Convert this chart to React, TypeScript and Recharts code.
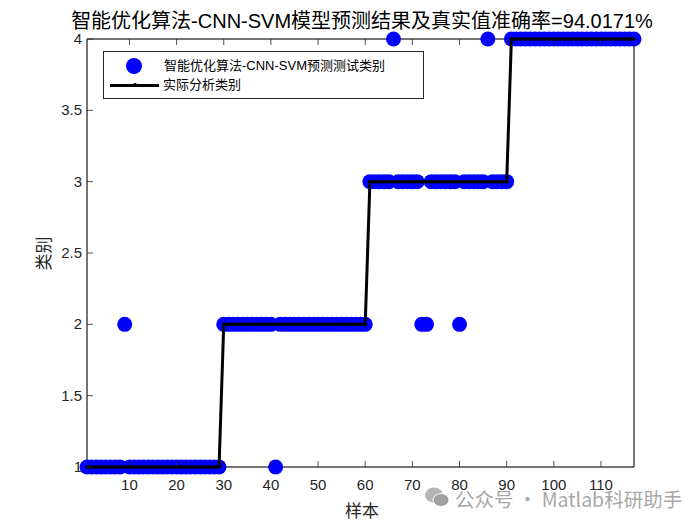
import React from 'react';
import { ComposedChart, Line, Scatter, XAxis, YAxis, ReferenceArea } from 'recharts';

// real class of each test sample (1..117)
const trueClass = [
  1, 1, 1, 1, 1, 1, 1, 1, 1, 1,
  1, 1, 1, 1, 1, 1, 1, 1, 1, 1,
  1, 1, 1, 1, 1, 1, 1, 1, 1, 2,
  2, 2, 2, 2, 2, 2, 2, 2, 2, 2,
  2, 2, 2, 2, 2, 2, 2, 2, 2, 2,
  2, 2, 2, 2, 2, 2, 2, 2, 2, 2,
  3, 3, 3, 3, 3, 3, 3, 3, 3, 3,
  3, 3, 3, 3, 3, 3, 3, 3, 3, 3,
  3, 3, 3, 3, 3, 3, 3, 3, 3, 3,
  4, 4, 4, 4, 4, 4, 4, 4, 4, 4,
  4, 4, 4, 4, 4, 4, 4, 4, 4, 4,
  4, 4, 4, 4, 4, 4, 4,
];

// predicted class of each test sample
const predClass = [
  1, 1, 1, 1, 1, 1, 1, 1, 2, 1,
  1, 1, 1, 1, 1, 1, 1, 1, 1, 1,
  1, 1, 1, 1, 1, 1, 1, 1, 1, 2,
  2, 2, 2, 2, 2, 2, 2, 2, 2, 2,
  1, 2, 2, 2, 2, 2, 2, 2, 2, 2,
  2, 2, 2, 2, 2, 2, 2, 2, 2, 2,
  3, 3, 3, 3, 3, 4, 3, 3, 3, 3,
  3, 2, 2, 3, 3, 3, 3, 3, 3, 2,
  3, 3, 3, 3, 3, 4, 3, 3, 3, 3,
  4, 4, 4, 4, 4, 4, 4, 4, 4, 4,
  4, 4, 4, 4, 4, 4, 4, 4, 4, 4,
  4, 4, 4, 4, 4, 4, 4,
];

const xTicks = [10, 20, 30, 40, 50, 60, 70, 80, 90, 100, 110];
const yTicks = [1, 1.5, 2, 2.5, 3, 3.5, 4];

const title = '智能优化算法-CNN-SVM模型预测结果及真实值准确率=94.0171%';
const predName = '智能优化算法-CNN-SVM预测测试类别';
const trueName = '实际分析类别';

const data = trueClass.map((t, i) => ({ idx: i + 1, real: t, pred: predClass[i] }));

const FONT = '"Liberation Sans", Arial, "Noto Sans CJK SC", sans-serif';
const AX = '#262626';
const TL = 6;

const BottomTick = (p: any) => (
  <g>
    <line x1={p.x} y1={p.y} x2={p.x} y2={p.y - TL} stroke={AX} strokeWidth={0.8} />
    <text x={p.x} y={p.y + 23} textAnchor="middle" fontSize={15} fill={AX} fontFamily={FONT}>
      {p.payload.value}
    </text>
  </g>
);
const TopTick = (p: any) => (
  <line x1={p.x} y1={p.y} x2={p.x} y2={p.y + TL} stroke={AX} strokeWidth={0.8} />
);
const LeftTick = (p: any) => (
  <g>
    <line x1={p.x} y1={p.y} x2={p.x + TL} y2={p.y} stroke={AX} strokeWidth={0.8} />
    <text x={p.x - 5} y={p.y + 5} textAnchor="end" fontSize={15} fill={AX} fontFamily={FONT}>
      {p.payload.value}
    </text>
  </g>
);
const RightTick = (p: any) => (
  <line x1={p.x} y1={p.y} x2={p.x - TL} y2={p.y} stroke={AX} strokeWidth={0.8} />
);

const Dot = (p: any) => <circle cx={p.cx} cy={p.cy} r={7.5} fill="#0000ff" />;

export default function App() {
  return (
    <div style={{ position: 'absolute', left: 0, top: 0, width: 700, height: 525, background: '#fff', fontFamily: FONT }}>
      <ComposedChart width={700} height={525} data={data} margin={{ top: 38, right: 65, bottom: 28, left: 0 }}>
        <XAxis
          xAxisId="b"
          dataKey="idx"
          type="number"
          domain={[1, 117]}
          ticks={xTicks}
          height={30}
          tickSize={0}
          tickMargin={0}
          tickLine={false}
          axisLine={{ stroke: AX, strokeWidth: 0.8 }}
          tick={<BottomTick />}
        />
        <XAxis
          xAxisId="t"
          dataKey="idx"
          type="number"
          orientation="top"
          domain={[1, 117]}
          ticks={xTicks}
          height={1}
          tickSize={0}
          tickMargin={0}
          tickLine={false}
          axisLine={{ stroke: AX, strokeWidth: 0.8 }}
          tick={<TopTick />}
        />
        <YAxis
          yAxisId="l"
          type="number"
          domain={[1, 4]}
          ticks={yTicks}
          width={87}
          tickSize={0}
          tickMargin={0}
          tickLine={false}
          axisLine={{ stroke: AX, strokeWidth: 0.8 }}
          tick={<LeftTick />}
        />
        <YAxis
          yAxisId="r"
          type="number"
          orientation="right"
          domain={[1, 4]}
          ticks={yTicks}
          width={1}
          tickSize={0}
          tickMargin={0}
          tickLine={false}
          axisLine={{ stroke: AX, strokeWidth: 0.8 }}
          tick={<RightTick />}
        />
        <ReferenceArea
          xAxisId="b"
          yAxisId="l"
          x1={1}
          x2={117}
          y1={1}
          y2={4}
          fill="none"
          fillOpacity={0}
          stroke={AX}
          strokeWidth={0.8}
        />
        <Scatter
          xAxisId="b"
          yAxisId="l"
          dataKey="pred"
          name={predName}
          fill="#0000ff"
          shape={<Dot />}
          isAnimationActive={false}
          zIndex={500}
        />
        <Line
          xAxisId="b"
          yAxisId="l"
          type="linear"
          dataKey="real"
          name={trueName}
          stroke="#000"
          strokeWidth={3}
          dot={{ r: 1.8, fill: '#000', stroke: '#000', strokeWidth: 0 }}
          isAnimationActive={false}
          zIndex={700}
        />
      </ComposedChart>

      <div style={{ position: 'absolute', left: 62, width: 600, top: 8, textAlign: 'center', fontSize: 20, lineHeight: '26px', color: '#000', whiteSpace: 'nowrap' }}>
        {title}
      </div>

      <div style={{ position: 'absolute', left: 322, width: 80, top: 497, textAlign: 'center', fontSize: 17, color: AX }}>样本</div>
      <div style={{ position: 'absolute', left: 2, width: 80, top: 241, textAlign: 'center', fontSize: 17, color: AX, transform: 'rotate(-90deg)' }}>类别</div>

      <div style={{ position: 'absolute', left: 103, top: 51, width: 319, height: 46, border: '1px solid #262626', background: '#fff', fontSize: 13, color: '#000' }}>
        <div style={{ position: 'absolute', left: 22, top: 6, width: 16, height: 16, borderRadius: 8, background: '#0000ff' }} />
        <div style={{ position: 'absolute', left: 60, top: 5, lineHeight: '18px', whiteSpace: 'nowrap' }}>{predName}</div>
        <div style={{ position: 'absolute', left: 6, top: 32, width: 49, height: 3, background: '#000' }} />
        <div style={{ position: 'absolute', left: 29, top: 31, width: 4, height: 4, borderRadius: 2, background: '#000' }} />
        <div style={{ position: 'absolute', left: 59, top: 24, lineHeight: '18px', whiteSpace: 'nowrap' }}>{trueName}</div>
      </div>

      <div style={{ position: 'absolute', left: 424, top: 486, width: 26, height: 22 }}>
        <svg width={26} height={22}>
          <ellipse cx={10} cy={9} rx={9} ry={7.5} fill="#b5b5b5" />
          <ellipse cx={17} cy={14} rx={8} ry={6.5} fill="#a0a0a0" stroke="#fff" strokeWidth={1} />
        </svg>
      </div>
      <div style={{ position: 'absolute', left: 455, top: 484, fontSize: 19.5, color: '#a8a8a8', whiteSpace: 'nowrap', fontFamily: '"Noto Sans CJK SC", "Noto Sans", sans-serif' }}>
        公众号 · Matlab科研助手
      </div>
    </div>
  );
}
